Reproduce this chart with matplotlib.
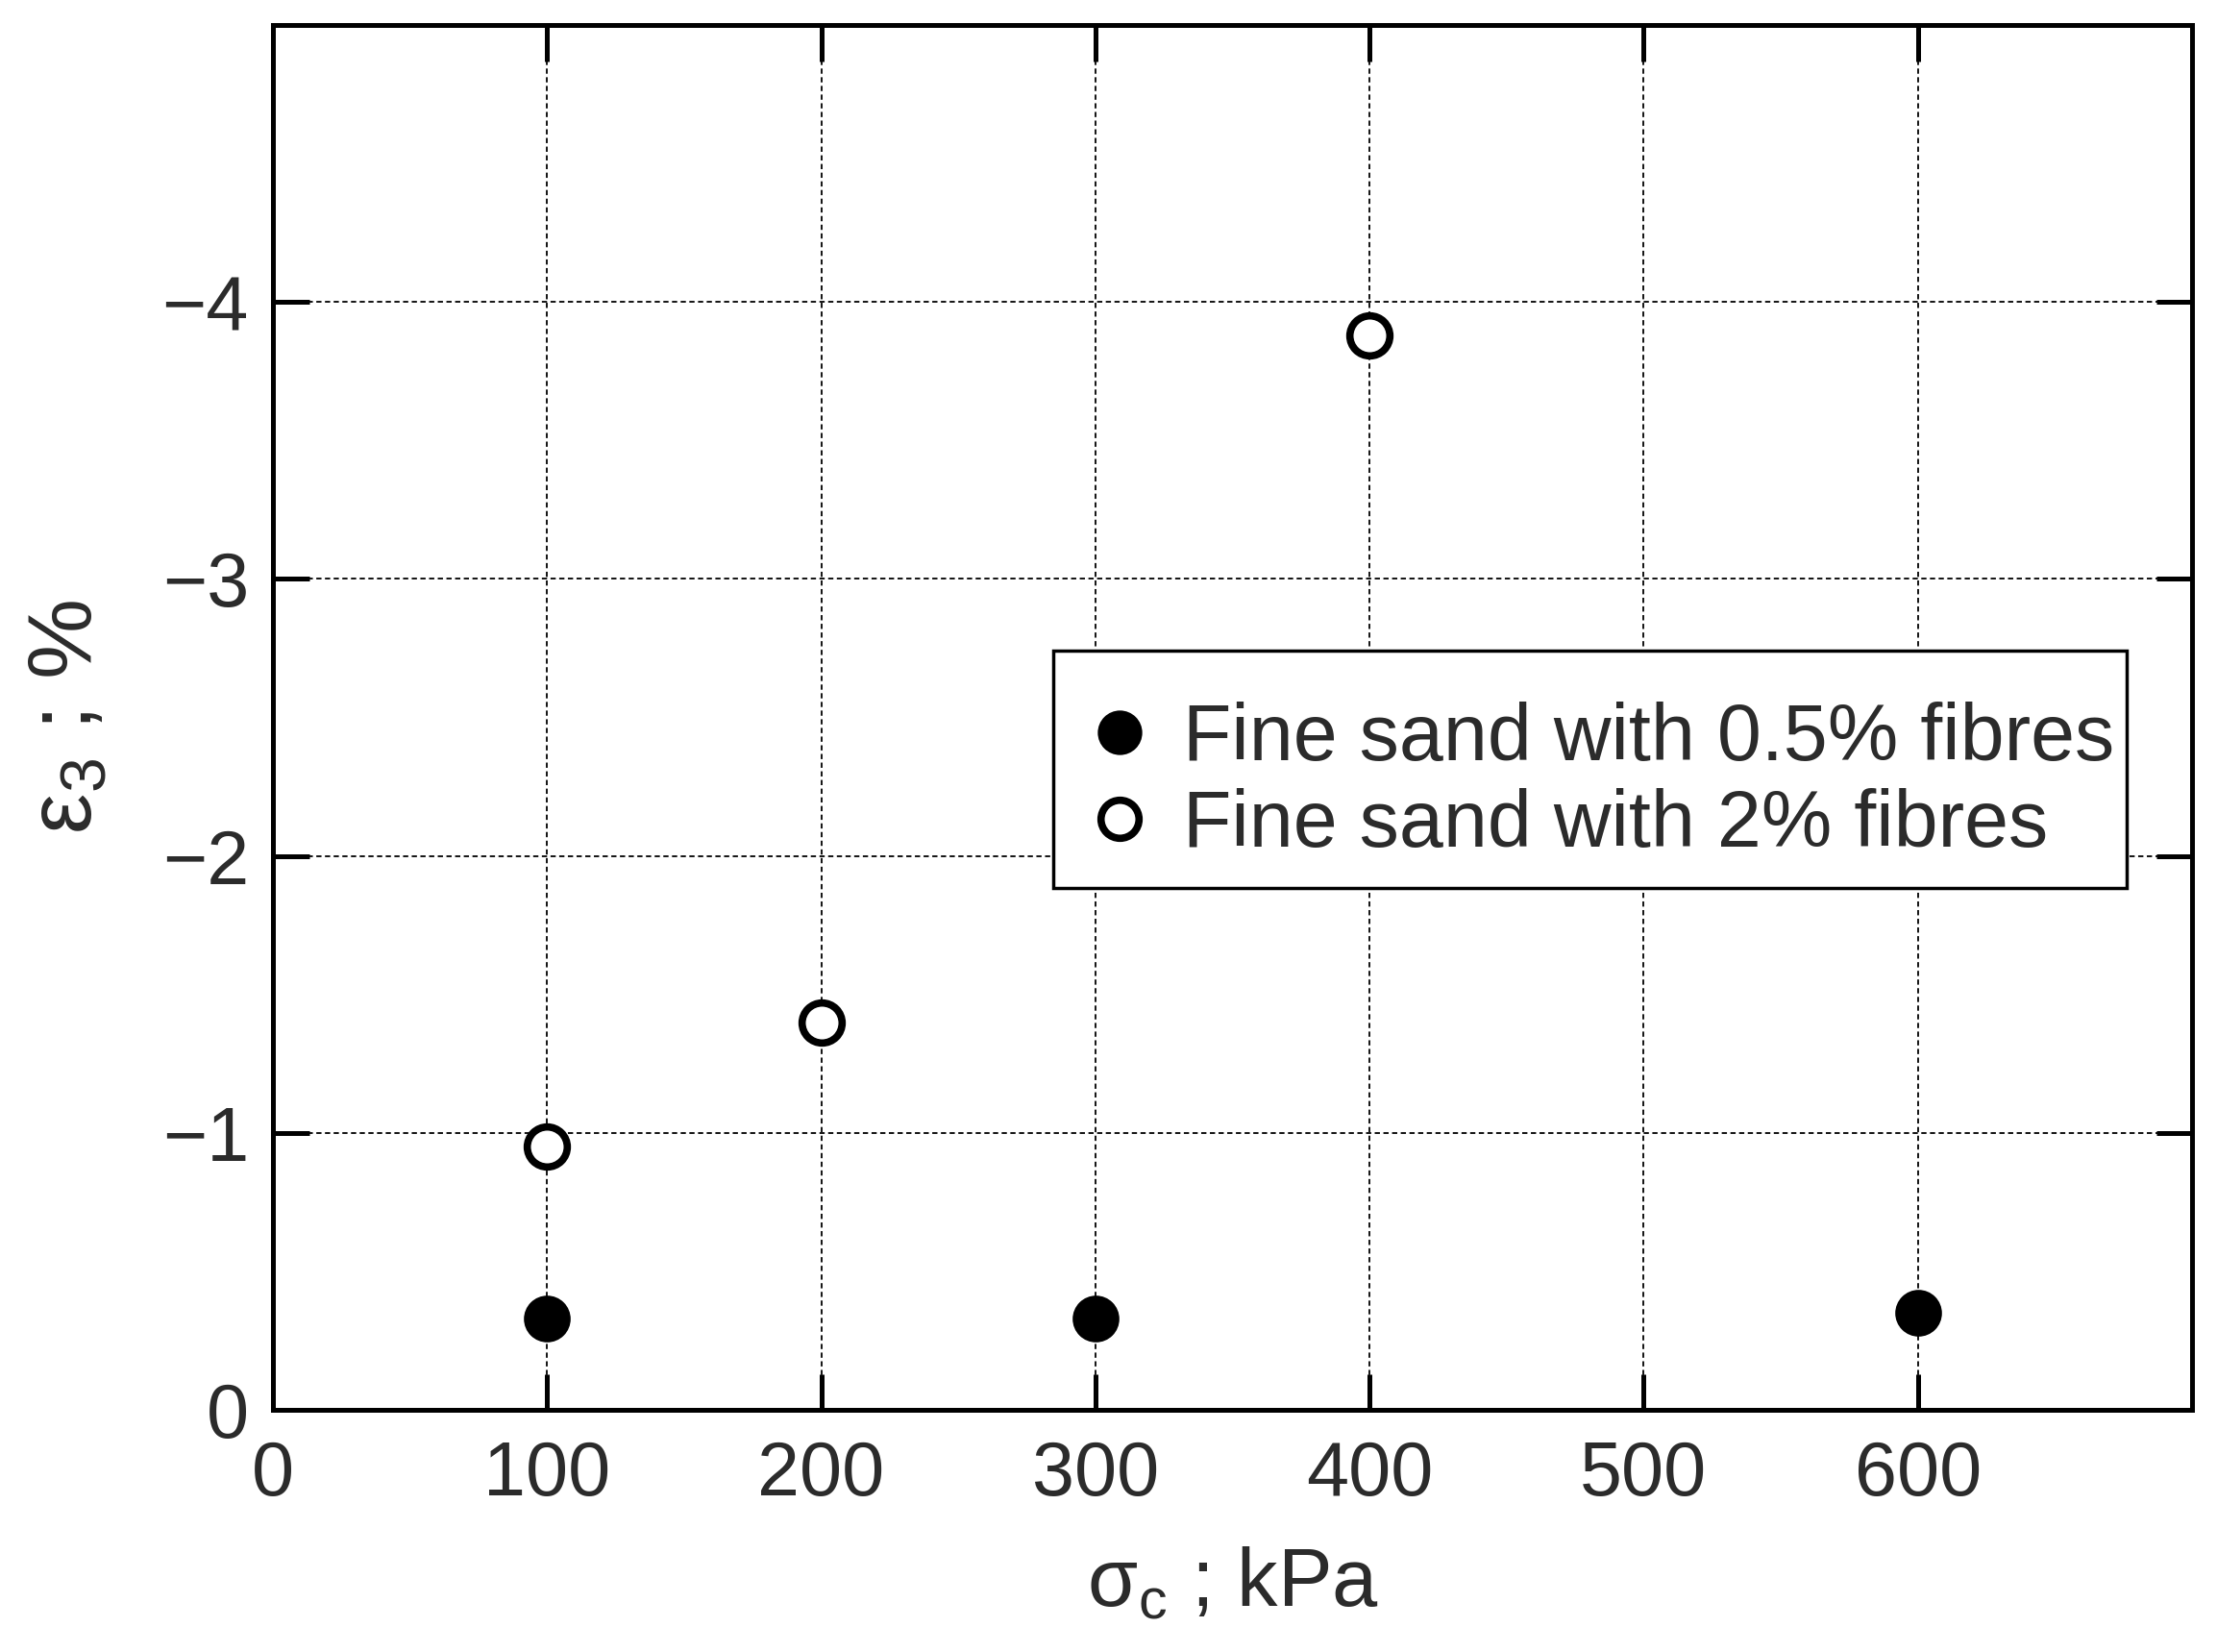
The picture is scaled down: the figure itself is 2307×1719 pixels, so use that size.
import matplotlib
matplotlib.use("Agg")
import matplotlib.pyplot as plt

# data
sigma_05 = [100, 300, 600]
eps_05 = [-0.33, -0.33, -0.35]
sigma_2 = [100, 200, 400]
eps_2 = [-0.95, -1.40, -3.88]
xticks = [0, 100, 200, 300, 400, 500, 600]
yticks = [0, -1, -2, -3, -4]

plt.rcParams['font.family'] = ['Liberation Sans', 'DejaVu Sans']
plt.rcParams['mathtext.fontset'] = 'custom'
plt.rcParams['mathtext.rm'] = 'Liberation Sans'
plt.rcParams['mathtext.it'] = 'Liberation Sans'

txt = '#2b2b2b'
fig = plt.figure(figsize=(23.07, 17.19), dpi=100)
ax = fig.add_axes([0.1231, 0.1466, 0.8656, 0.8383])

ax.plot(sigma_05, eps_05, 'o', ms=33, mfc='black', mec='black', mew=2,
        label='Fine sand with 0.5% fibres', zorder=3)
ax.plot(sigma_2, eps_2, 'o', ms=30, mfc='white', mec='black', mew=5.5,
        label='Fine sand with 2% fibres', zorder=3)

ax.set_xlim(0, 700)
ax.set_ylim(0, -5)
ax.set_xticks(xticks)
ax.set_yticks(yticks)
ax.grid(True, color='black', lw=1.3, linestyle=(0, (3, 2)))
ax.set_axisbelow(True)

for s in ax.spines.values():
    s.set_linewidth(3.6)
ax.tick_params(direction='in', length=27, width=3.6, top=True, right=True,
               labelsize=57, labelcolor=txt)
ax.tick_params(axis='x', pad=22)
ax.tick_params(axis='y', pad=18)

ax.set_xlabel('σ$_\\mathregular{c}$ ; kPa', fontsize=61, color=txt, labelpad=26)
ax.set_ylabel('ε$_\\mathregular{3}$ ; %', fontsize=68, color=txt, labelpad=38)

# blank tiny title just pushes the entries down a little inside the box
leg = ax.legend(loc='upper left', bbox_to_anchor=(0.4066, 0.383, 0.5594, 0.165),
                mode='expand', fontsize=59.5, title=' ', title_fontsize=10.5,
                frameon=True, fancybox=False, edgecolor='black', framealpha=1,
                borderpad=0.315, labelspacing=0.15, handlelength=1.05,
                handletextpad=0.27, borderaxespad=0, markerscale=0.95)
leg.get_frame().set_linewidth(2.5)
for t in leg.get_texts():
    t.set_color(txt)

fig.savefig('out.png', dpi=100)
